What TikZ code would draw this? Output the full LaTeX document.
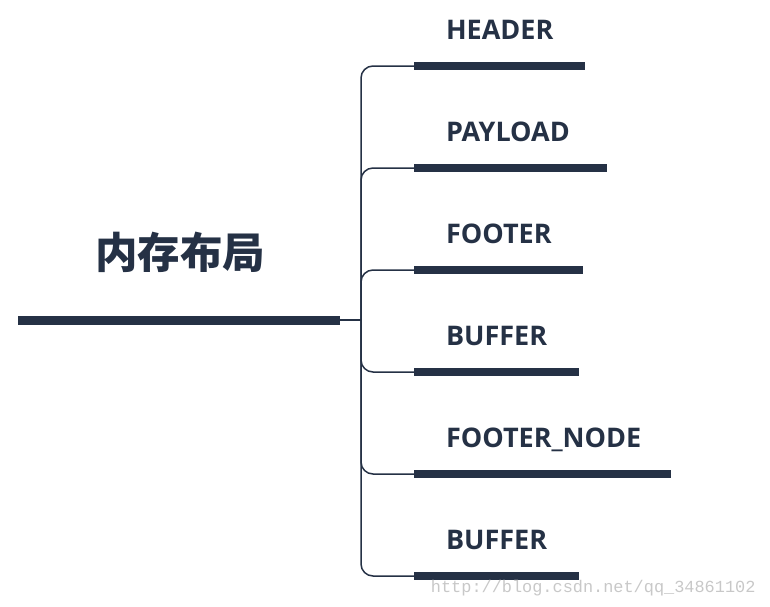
\documentclass[tikz,border=0pt]{standalone}
\usepackage{fontspec}
\setmainfont{Open Sans}
\newfontfamily\cjk{Noto Sans CJK SC}
\newfontfamily\wmfont{Liberation Mono}
\definecolor{navy}{HTML}{253145}
\definecolor{wmgray}{HTML}{C8C8C8}
\usetikzlibrary{positioning, calc}
\tikzset{
  bar/.style={
    fill=navy, draw=none, inner sep=0pt, anchor=west,
    minimum height=7.5pt
  },
  rootbar/.style={bar, minimum height=9pt},
  lbl/.style={font=\bfseries\fontsize{27}{30}\selectfont, text=navy, anchor=base west},
  roottxt/.style={font=\cjk\bfseries\fontsize{42.5}{46}\selectfont, text=navy},
  link/.style={draw=navy, line width=1.5pt, rounded corners=12pt},
}

\begin{document}
\begin{tikzpicture}[x=1pt, y=-1pt]
    \useasboundingbox (0,0) rectangle (770,606);

    % root
    \node[rootbar, minimum width=322pt] (rbar) at (18,320) {};
    \node[roottxt] (root) at (180,252) {内存布局};
    \coordinate (hub) at (361,320);

    % branches
    \node[bar, minimum width=171pt] (b1) at (414,66) {};
    \node[bar, minimum width=193pt] (b2) at (414,168) {};
    \node[bar, minimum width=169pt] (b3) at (414,270) {};
    \node[bar, minimum width=165pt] (b4) at (414,372) {};
    \node[bar, minimum width=257pt] (b5) at (414,474) {};
    \node[bar, minimum width=165pt] (b6) at (414,576) {};

    \node[lbl] (t1) at ($(b1.west)+(28.5,-26.5)$) {HEADER};
    \node[lbl] (t2) at ($(b2.west)+(28.5,-26.5)$) {PAYLOAD};
    \node[lbl] (t3) at ($(b3.west)+(28.5,-26.5)$) {FOOTER};
    \node[lbl] (t4) at ($(b4.west)+(28.5,-26.5)$) {BUFFER};
    \node[lbl] (t5) at ($(b5.west)+(28.5,-26.5)$) {FOOTER\_NODE};
    \node[lbl] (t6) at ($(b6.west)+(28.5,-26.5)$) {BUFFER};

    % connectors
    \draw[link] (rbar.east) -- (hub);
    \draw[link] (hub) |- (b1.west);
    \draw[link] (hub) |- (b2.west);
    \draw[link] (hub) |- (b3.west);
    \draw[link] (hub) |- (b4.west);
    \draw[link] (hub) |- (b5.west);
    \draw[link] (hub) |- (b6.west);

    \node[font=\wmfont\fontsize{16.9}{18}\selectfont, text=wmgray, anchor=base east] (wm) at (759,592) {http://blog.csdn.net/qq\_34861102};
  \end{tikzpicture}
\end{document}
